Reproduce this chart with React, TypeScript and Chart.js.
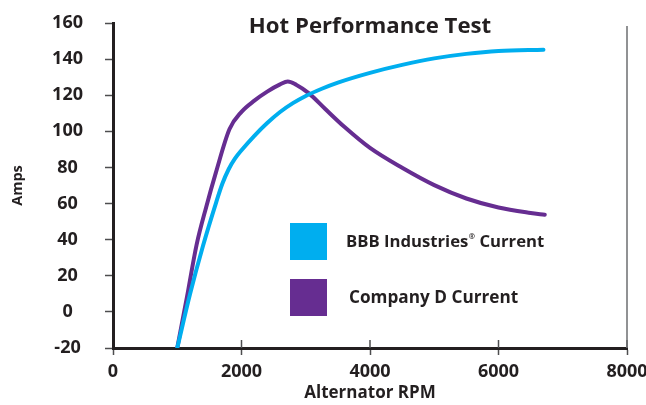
import React, { useEffect, useRef } from 'react';
import { Chart, registerables } from 'chart.js';

Chart.register(...registerables);

const TITLE = 'Hot Performance Test';
const X_TITLE = 'Alternator RPM';
const Y_TITLE = 'Amps';
const SERIES_A = 'BBB Industries';
const SERIES_A_MARK = '®';
const SERIES_A_SUFFIX = ' Current';
const SERIES_B = 'Company D Current';

const X_MIN = 0;
const X_MAX = 8000;
const X_STEP = 2000;
const Y_MIN = -20;
const Y_MAX = 160;
const Y_STEP = 20;

const bbbRpm = [1000, 1200, 1400, 1600, 1700, 1800, 1900, 2000, 2200, 2400, 2600, 2800, 3000, 3250, 3500, 4000, 4500, 5000, 5500, 6000, 6700];
const bbbAmps = [-20, 10, 36.5, 60, 70.8, 79, 85, 89.5, 97.5, 104.6, 110.7, 115.6, 119.6, 123.6, 127, 132.4, 136.8, 140.4, 142.9, 144.5, 145.2];

const compRpm = [1000, 1150, 1300, 1450, 1600, 1814, 2000, 2200, 2400, 2600, 2720, 2850, 3050, 3300, 3600, 4000, 4500, 5000, 5500, 6000, 6500, 6720];
const compAmps = [-20, 8, 37, 58, 77, 101.3, 110.8, 117, 122, 126, 127.6, 125.8, 121, 112.5, 102.5, 90.8, 79.8, 70.2, 62.8, 57.8, 54.8, 53.8];

const CYAN = '#00AEEF';
const PURPLE = '#662D91';
const TEXT = '#231F20';
const TICK = '#4d4d4f';
const FONT = '"Open Sans", "Noto Sans", sans-serif';

const decor = {
  id: 'decor',
  afterDraw(chart: any) {
    const { ctx, chartArea: a, scales } = chart;
    const xs = scales.x;
    ctx.save();
    // upper halves of x tick marks
    ctx.strokeStyle = TICK;
    ctx.lineWidth = 1.5;
    for (let v = X_MIN + X_STEP; v <= X_MAX; v += X_STEP) {
      const px = xs.getPixelForValue(v);
      ctx.beginPath();
      ctx.moveTo(px, a.bottom - 8);
      ctx.lineTo(px, a.bottom);
      ctx.stroke();
    }
    // right border line
    ctx.strokeStyle = '#6d6e71';
    ctx.lineWidth = 1.5;
    ctx.beginPath();
    ctx.moveTo(a.right, a.top + 3);
    ctx.lineTo(a.right, a.bottom);
    ctx.stroke();

    // title
    ctx.fillStyle = TEXT;
    ctx.textAlign = 'center';
    ctx.textBaseline = 'alphabetic';
    ctx.font = `bold 22.2px ${FONT}`;
    ctx.fillText(TITLE, (a.left + a.right) / 2, 32.5);

    // legend
    const lx = 290;
    ctx.fillStyle = CYAN;
    ctx.fillRect(lx, 223, 37, 37);
    ctx.fillStyle = PURPLE;
    ctx.fillRect(lx, 279, 37, 37);

    ctx.fillStyle = TEXT;
    ctx.textAlign = 'left';
    ctx.font = `bold 16.7px ${FONT}`;
    let tx = 346;
    ctx.fillText(SERIES_A, tx, 247);
    tx += ctx.measureText(SERIES_A).width + 0.5;
    ctx.font = `bold 7.5px ${FONT}`;
    ctx.fillText(SERIES_A_MARK, tx, 239);
    tx += ctx.measureText(SERIES_A_MARK).width;
    ctx.font = `bold 16.7px ${FONT}`;
    ctx.fillText(SERIES_A_SUFFIX, tx, 247);

    ctx.font = `bold 17.2px ${FONT}`;
    ctx.fillText(SERIES_B, 349, 303);
    ctx.restore();
  },
};

export default function App() {
  const ref = useRef<HTMLCanvasElement | null>(null);

  useEffect(() => {
    if (!ref.current) return;
    const chart = new Chart(ref.current, {
      type: 'line',
      data: {
        datasets: [
          {
            label: SERIES_A + SERIES_A_MARK + SERIES_A_SUFFIX,
            data: bbbRpm.map((x, i) => ({ x, y: bbbAmps[i] })),
            borderColor: CYAN,
            backgroundColor: CYAN,
            borderWidth: 4,
            pointRadius: 0,
            cubicInterpolationMode: 'monotone',
            borderCapStyle: 'round',
          },
          {
            label: SERIES_B,
            data: compRpm.map((x, i) => ({ x, y: compAmps[i] })),
            borderColor: PURPLE,
            backgroundColor: PURPLE,
            borderWidth: 4,
            pointRadius: 0,
            cubicInterpolationMode: 'monotone',
            borderCapStyle: 'round',
          },
        ],
      },
      options: {
        animation: false,
        responsive: false,
        layout: { padding: { left: 0, right: 19, top: 23, bottom: 0 } },
        plugins: {
          legend: { display: false },
          title: { display: false },
          tooltip: { enabled: false },
        },
        scales: {
          x: {
            type: 'linear',
            min: X_MIN,
            max: X_MAX,
            afterFit: (s: any) => {
              s.height = 57;
              s.paddingLeft = 0;
              s.paddingRight = 0;
            },
            ticks: {
              stepSize: X_STEP,
              padding: 6,
              color: TEXT,
              font: { family: FONT, size: 18, weight: 'bold' },
              maxRotation: 0,
              callback: (v: any) => String(v),
            },
            grid: {
              drawOnChartArea: false,
              tickLength: 7,
              tickWidth: 1.5,
              tickColor: TICK,
            },
            border: { display: true, width: 3, color: TEXT },
            title: {
              display: true,
              text: X_TITLE,
              color: TEXT,
              font: { family: FONT, size: 17, weight: 'bold' },
              padding: { top: 0, bottom: 2 },
            },
          },
          y: {
            type: 'linear',
            min: Y_MIN,
            max: Y_MAX,
            afterFit: (s: any) => {
              s.width = 113;
              s.paddingTop = 0;
              s.paddingBottom = 0;
            },
            ticks: {
              stepSize: Y_STEP,
              padding: 22,
              crossAlign: 'center',
              color: TEXT,
              font: { family: FONT, size: 18, weight: 'bold' },
              callback: (v: any) => String(v),
            },
            grid: {
              drawOnChartArea: false,
              tickLength: 8,
              tickWidth: 1.5,
              tickColor: TICK,
            },
            border: { display: true, width: 3, color: TEXT },
            title: {
              display: true,
              text: Y_TITLE,
              color: TEXT,
              font: { family: FONT, size: 14.5, weight: 'bold' },
              padding: { top: 9, bottom: 0 },
            },
          },
        },
      },
      plugins: [decor],
    } as any);
    return () => chart.destroy();
  }, []);

  return (
    <div style={{ position: 'fixed', left: 0, top: 0, width: 646, height: 405, background: '#fff' }}>
      <canvas ref={ref} width={646} height={405} style={{ display: 'block' }} />
    </div>
  );
}
